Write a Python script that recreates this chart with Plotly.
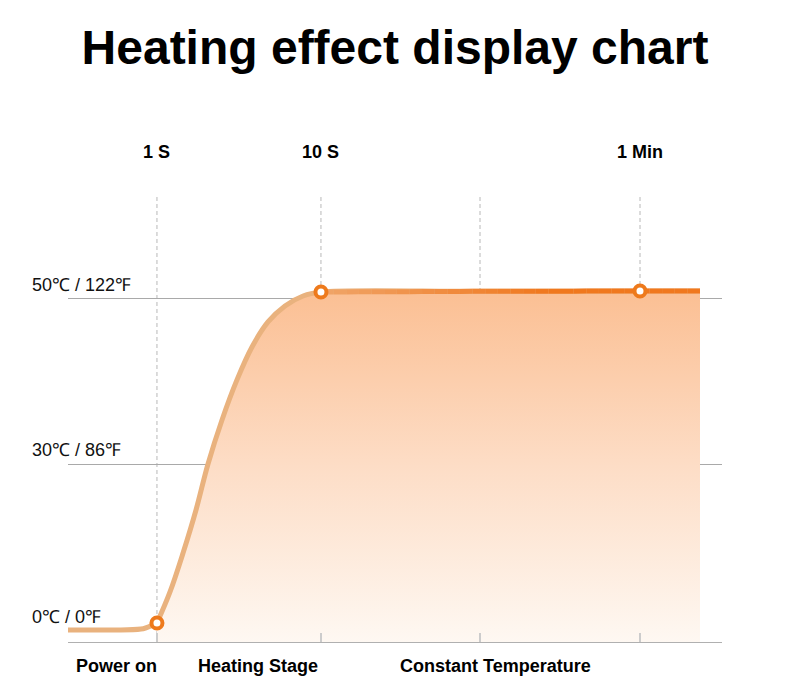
import numpy as np
import plotly.graph_objects as go

# ---------------- data ----------------
# schematic time axis (1 unit ~ one stage interval)
time_ticks = [0.556, 1.581, 2.575, 3.575]
time_labels = ["1 S", "10 S", "", "1 Min"]

# temperature levels: 0 -> 0℃, 1 -> 30℃, 2 -> 50℃
temp_levels = [0, 1, 2]
temp_labels = ["0℃ / 0℉", "30℃ / 86℉", "50℃ / 122℉"]

stage_names = ["Power on", "Heating Stage", "Constant Temperature"]
stage_centers = [0.30, 1.19, 2.67]

# power-on segment
power_x = [0.0, 0.47, 0.556]
power_y = [0.0, 0.008, 0.042]

# heating + constant curve
curve_x = [0.556, 0.6375, 0.719, 0.80, 0.875, 0.9625, 1.056, 1.15, 1.25, 1.356, 1.469, 1.581,
           2.575, 3.575, 3.95]
curve_y = [0.042, 0.230, 0.465, 0.725, 1.003, 1.269, 1.511, 1.710, 1.861, 1.958, 2.018, 2.042,
           2.046, 2.048, 2.048]

# markers at 1 S, 10 S, 1 Min
mark_x = [0.556, 1.581, 3.575]
mark_y = [0.042, 2.042, 2.048]

X_MAX = 4.0875
Y_MIN, Y_MAX = -0.0725, 2.628

FONT = "Liberation Sans, Arial, sans-serif"
TAN = "#E9B27E"

fig = go.Figure()

# base for gradient fill
fig.add_trace(go.Scatter(x=[curve_x[0], curve_x[-1]], y=[Y_MIN, Y_MIN], mode="lines",
                         line=dict(width=0), hoverinfo="skip", showlegend=False))
# filled curve
fig.add_trace(go.Scatter(
    x=curve_x, y=curve_y, mode="lines", line=dict(color=TAN, width=5, shape="spline", smoothing=1.0),
    fill="tonexty",
    fillgradient=dict(type="vertical", start=Y_MIN, stop=2.05,
                      colorscale=[[0, "#FEF8F2"], [0.5, "#FDDDC6"], [1, "#FBBF93"]]),
    hoverinfo="skip", showlegend=False))

# power-on flat line
fig.add_trace(go.Scatter(x=power_x, y=power_y, mode="lines",
                         line=dict(color=TAN, width=5, shape="spline", smoothing=0.6),
                         hoverinfo="skip", showlegend=False))

# colour gradient along the constant-temperature line (styling segments)
c0 = np.array([240, 165, 105])
c1 = np.array([240, 120, 30])
flat_i = curve_x.index(1.581)
flat_x0, flat_x1 = curve_x[flat_i], curve_x[-1]
n_seg = 30
xs = np.linspace(flat_x0, flat_x1, n_seg + 1)
ys = np.interp(xs, curve_x[flat_i:], curve_y[flat_i:])
for i in range(n_seg):
    t = min(1.0, (i + 0.5) / (n_seg * 0.6))
    c = (c0 + (c1 - c0) * t).astype(int)
    fig.add_trace(go.Scatter(x=[xs[i], xs[i + 1]], y=[ys[i], ys[i + 1]], mode="lines",
                             line=dict(color=f"rgb({c[0]},{c[1]},{c[2]})", width=5),
                             hoverinfo="skip", showlegend=False))

# markers
fig.add_trace(go.Scatter(x=mark_x, y=mark_y, mode="markers",
                         marker=dict(symbol="circle", size=11, color="white",
                                     line=dict(color="#EE7A1C", width=4)),
                         hoverinfo="skip", showlegend=False))

# dashed vertical lines
for xv in time_ticks:
    fig.add_shape(type="line", xref="x", yref="paper", x0=xv, x1=xv, y0=0, y1=1,
                  line=dict(color="#B8B8B8", width=1, dash="4px,3px"), layer="below")

annotations = []
for xv, lab in zip(time_ticks, time_labels):
    if lab:
        annotations.append(dict(x=xv, y=1.096, xref="x", yref="paper", text=f"<b>{lab}</b>",
                                showarrow=False, xanchor="center", yanchor="middle",
                                font=dict(family=FONT, size=18, color="#000")))
for lv, lab in zip(temp_levels, temp_labels):
    annotations.append(dict(x=-0.0581, y=lv, xref="paper", yref="y", text=lab,
                            showarrow=False, xanchor="left", yanchor="middle",
                            yshift=(13 if lv == 0 else 14),
                            font=dict(family=FONT, size=18, color="#111")))
for xc, lab in zip(stage_centers, stage_names):
    annotations.append(dict(x=xc, y=-0.0537, xref="x", yref="paper", text=f"<b>{lab}</b>",
                            showarrow=False, xanchor="center", yanchor="middle",
                            font=dict(family=FONT, size=18, color="#000")))

fig.update_layout(
    width=790, height=695, autosize=False,
    margin=dict(l=60, r=76, t=187, b=61),
    paper_bgcolor="white", plot_bgcolor="white",
    title=dict(text="<b>Heating effect display chart</b>", x=0.5, xanchor="center",
               xref="paper", y=1 - 39 / 695, yanchor="middle",
               font=dict(family=FONT, size=48, color="#000")),
    xaxis=dict(range=[0, X_MAX], showgrid=False, zeroline=False, showline=True,
               linecolor="#B0B0B0", linewidth=1, ticks="inside",
               tickvals=[0] + time_ticks, ticklen=9, tickwidth=2, tickcolor="#CCCCCC",
               showticklabels=False, fixedrange=True),
    yaxis=dict(range=[Y_MIN, Y_MAX], tickvals=[1, 2], showgrid=True, gridcolor="#A9A9A9",
               gridwidth=1, zeroline=False, showline=False, showticklabels=False,
               ticks="", fixedrange=True),
    annotations=annotations,
    showlegend=False,
)

fig.write_html("out.html")
